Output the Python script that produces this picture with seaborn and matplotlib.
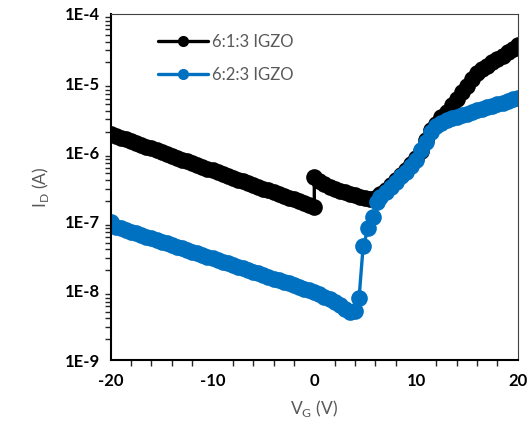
import matplotlib
matplotlib.use("Agg")
import matplotlib.pyplot as plt
import matplotlib.ticker as mticker
import numpy as np
import pandas as pd
import seaborn as sns

# 6:1:3 IGZO (black)
vg_613 = [-20, -19.5, -19, -18.5, -18, -17.5, -17, -16.5, -16, -15.5, -15, -14.5, -14, -13.5,
          -13, -12.5, -12, -11.5, -11, -10.5, -10, -9.5, -9, -8.5, -8, -7.5, -7, -6.5, -6,
          -5.5, -5, -4.5, -4, -3.5, -3, -2.5, -2, -1.5, -1, -0.5, 0,
          0, 0.5, 1, 1.5, 2, 2.5, 3, 3.5, 4, 4.5, 5, 5.5, 6, 6.5, 7, 7.5, 8, 8.5, 9, 9.5,
          10, 10.5, 11, 11.5, 12, 12.5, 13, 13.5, 14, 14.5, 15, 15.5, 16, 16.5, 17, 17.5,
          18, 18.5, 19, 19.5, 20]
id_613 = [1.85e-6, 1.74e-6, 1.63e-6, 1.54e-6, 1.45e-6, 1.36e-6, 1.28e-6, 1.21e-6, 1.14e-6,
          1.07e-6, 1.01e-6, 9.5e-7, 8.9e-7, 8.4e-7, 7.9e-7, 7.45e-7, 7.0e-7, 6.6e-7, 6.2e-7,
          5.85e-7, 5.5e-7, 5.2e-7, 4.9e-7, 4.6e-7, 4.3e-7, 4.06e-7, 3.83e-7, 3.6e-7, 3.39e-7,
          3.19e-7, 3.0e-7, 2.83e-7, 2.66e-7, 2.5e-7, 2.36e-7, 2.22e-7, 2.09e-7, 1.97e-7,
          1.85e-7, 1.74e-7, 1.64e-7,
          4.4e-7, 3.9e-7, 3.5e-7, 3.2e-7, 3.0e-7, 2.8e-7, 2.65e-7, 2.5e-7, 2.4e-7, 2.3e-7,
          2.2e-7, 2.15e-7, 2.2e-7, 2.5e-7, 2.9e-7, 3.4e-7, 4.0e-7, 4.7e-7, 5.6e-7, 6.7e-7,
          8.2e-7, 1.05e-6, 1.5e-6, 2.1e-6, 2.58e-6, 3.2e-6, 3.9e-6, 4.9e-6, 6.0e-6, 7.4e-6,
          9.2e-6, 1.14e-5, 1.4e-5, 1.58e-5, 1.78e-5, 2.0e-5, 2.24e-5, 2.5e-5, 2.8e-5,
          3.16e-5, 3.55e-5]

# 6:2:3 IGZO (blue)
vg_623 = [-20, -19.5, -19, -18.5, -18, -17.5, -17, -16.5, -16, -15.5, -15, -14.5, -14, -13.5,
          -13, -12.5, -12, -11.5, -11, -10.5, -10, -9.5, -9, -8.5, -8, -7.5, -7, -6.5, -6,
          -5.5, -5, -4.5, -4, -3.5, -3, -2.5, -2, -1.5, -1, -0.5, 0,
          0.5, 1, 1.5, 2, 2.5, 3, 3.5, 4, 4.4, 4.8, 5.3, 5.8, 6.2, 6.5, 7, 7.5, 8, 8.5, 9,
          9.5, 10, 10.5, 11, 11.5, 12, 12.5, 13, 13.5, 14, 14.5, 15, 15.5, 16, 16.5, 17,
          17.5, 18, 18.5, 19, 19.5, 20]
id_623 = [1.0e-7, 8.5e-8, 8.05e-8, 7.6e-8, 7.2e-8, 6.8e-8, 6.45e-8, 6.1e-8, 5.77e-8, 5.46e-8,
          5.16e-8, 4.88e-8, 4.61e-8, 4.36e-8, 4.13e-8, 3.9e-8, 3.69e-8, 3.49e-8, 3.3e-8,
          3.12e-8, 2.95e-8, 2.79e-8, 2.64e-8, 2.5e-8, 2.36e-8, 2.24e-8, 2.11e-8, 2.0e-8,
          1.89e-8, 1.79e-8, 1.69e-8, 1.6e-8, 1.51e-8, 1.43e-8, 1.35e-8, 1.28e-8, 1.21e-8,
          1.15e-8, 1.08e-8, 1.02e-8, 9.8e-9,
          9.0e-9, 8.3e-9, 7.6e-9, 6.9e-9, 6.2e-9, 5.5e-9, 4.9e-9, 5.2e-9, 7.9e-9, 4.4e-8,
          8.0e-8, 1.15e-7, 1.9e-7, 2.3e-7, 2.7e-7, 3.2e-7, 3.8e-7, 4.5e-7, 5.3e-7, 6.3e-7,
          7.7e-7, 1.1e-6, 1.4e-6, 2.0e-6, 2.4e-6, 2.7e-6, 2.95e-6, 3.1e-6, 3.28e-6, 3.46e-6,
          3.64e-6, 3.84e-6, 4.05e-6, 4.27e-6, 4.5e-6, 4.74e-6, 5.0e-6, 5.26e-6, 5.55e-6,
          5.85e-6, 6.15e-6]

labels = ["6:1:3 IGZO", "6:2:3 IGZO"]
colors = ["#000000", "#0070C0"]

df = pd.concat([
    pd.DataFrame({"VG": vg_613, "ID": id_613, "sample": labels[0]}),
    pd.DataFrame({"VG": vg_623, "ID": id_623, "sample": labels[1]}),
], ignore_index=True)

sns.set_style("white")
plt.rcParams["font.family"] = ["Lato", "DejaVu Sans"]
plt.rcParams["axes.unicode_minus"] = False

fig = plt.figure(figsize=(5.3, 4.36), dpi=100)
ax = fig.add_axes([0.209, 0.174, 0.768, 0.794])

sns.lineplot(data=df, x="VG", y="ID", hue="sample", palette=dict(zip(labels, colors)),
             estimator=None, sort=False, marker="o", markersize=12, markeredgewidth=0,
             linewidth=2.4, ax=ax)

ax.set_yscale("log")
ax.set_ylim(1e-9, 1e-4)
ax.set_xlim(-20, 20)
ax.set_xticks([-20, -10, 0, 10, 20])
ax.xaxis.set_minor_locator(mticker.MultipleLocator(2))
ax.yaxis.set_major_locator(mticker.LogLocator(base=10, numticks=10))
ax.yaxis.set_minor_locator(mticker.LogLocator(base=10, subs=np.arange(2, 10), numticks=20))
ax.yaxis.set_major_formatter(mticker.FuncFormatter(lambda v, p: f"1E{int(round(np.log10(v)))}"))
ax.yaxis.set_minor_formatter(mticker.NullFormatter())
ax.xaxis.get_offset_text().set_visible(False)
ax.yaxis.get_offset_text().set_visible(False)

ax.tick_params(axis="both", which="major", labelsize=12, colors="black", width=1.3)
ax.tick_params(axis="y", which="major", direction="inout", length=9)
ax.tick_params(axis="y", which="minor", direction="out", length=4, width=1.0, left=True)
ax.tick_params(axis="x", which="major", direction="out", length=6)
ax.tick_params(axis="x", which="minor", direction="out", length=4, width=1.0, bottom=True)
for t in ax.get_xticklabels() + ax.get_yticklabels():
    t.set_fontweight("bold")

for s in ["left", "bottom"]:
    ax.spines[s].set_color("black")
    ax.spines[s].set_linewidth(1.5)
for s in ["top", "right"]:
    ax.spines[s].set_color("#404040")
    ax.spines[s].set_linewidth(0.8)

ax.set_xlabel(r"V$_\mathregular{G}$ (V)", fontsize=12.5, color="#595959", labelpad=6)
ax.set_ylabel(r"I$_\mathregular{D}$ (A)", fontsize=12.5, color="#595959", labelpad=10)

handles, _ = ax.get_legend_handles_labels()
for h in handles:
    h.set_markersize(8)
leg = ax.legend(handles=handles, labels=labels, loc="upper left", bbox_to_anchor=(0.08, 0.985),
                frameon=False, fontsize=12, handlelength=3.0, handletextpad=0.2, labelspacing=1.0)
for t in leg.get_texts():
    t.set_color("#595959")

fig.savefig("out.png", dpi=100)
